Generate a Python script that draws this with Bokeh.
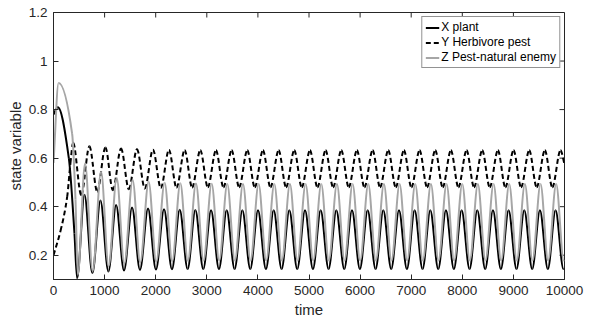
import numpy as np
from bokeh.plotting import figure
from bokeh.models import ColumnDataSource, FixedTicker, Range1d
from bokeh.embed import file_html
from bokeh.resources import INLINE

# ---------------- data (key points: start, extrema) ----------------
x_plant_t = [0, 85, 300, 410, 462, 606, 761, 919, 1074, 1225, 1380, 1537, 1692, 1850, 2005,
             2163, 2318, 2470, 2625, 2776, 2931, 3083, 3238, 3389, 3544, 3696, 3851, 4002, 4157,
             4309, 4464, 4615, 4770, 4922, 5077, 5228, 5383, 5535, 5690, 5841, 5996, 6148, 6303,
             6454, 6609, 6761, 6916, 7067, 7222, 7374, 7529, 7680, 7835, 7987, 8142, 8293, 8448,
             8600, 8755, 8906, 9061, 9213, 9368, 9519, 9674, 9825, 9980, 10000]
x_plant_v = [0.78, 0.81, 0.60, 0.29, 0.105, 0.449, 0.126, 0.425, 0.133, 0.407, 0.137, 0.397, 0.139,
             0.392, 0.141, 0.389, 0.142, 0.387, 0.143, 0.386, 0.143, 0.385, 0.143, 0.385, 0.143,
             0.385, 0.143, 0.385, 0.143, 0.385, 0.143, 0.385, 0.143, 0.385, 0.143, 0.385, 0.143,
             0.385, 0.143, 0.385, 0.143, 0.385, 0.143, 0.385, 0.143, 0.385, 0.143, 0.385, 0.143,
             0.385, 0.143, 0.385, 0.143, 0.385, 0.143, 0.385, 0.143, 0.385, 0.143, 0.385, 0.143,
             0.385, 0.143, 0.385, 0.143, 0.385, 0.143, 0.145]

y_pest_t = [0, 137, 267, 332, 384, 543, 703, 856, 1016, 1162, 1322, 1474, 1634, 1787, 1947, 2100,
            2260, 2407, 2567, 2713, 2873, 3020, 3180, 3326, 3486, 3633, 3793, 3939, 4099, 4246,
            4406, 4552, 4712, 4859, 5019, 5165, 5325, 5472, 5632, 5778, 5938, 6085, 6245, 6391,
            6551, 6698, 6858, 7004, 7164, 7311, 7471, 7617, 7777, 7924, 8084, 8230, 8390, 8537,
            8697, 8843, 9003, 9150, 9310, 9456, 9616, 9762, 9922, 10000]
y_pest_v = [0.20, 0.30, 0.44, 0.58, 0.663, 0.448, 0.649, 0.462, 0.644, 0.468, 0.640, 0.472, 0.637,
            0.475, 0.635, 0.477, 0.634, 0.478, 0.633, 0.479, 0.633, 0.48, 0.632, 0.48, 0.632, 0.48,
            0.632, 0.48, 0.632, 0.48, 0.632, 0.48, 0.632, 0.48, 0.632, 0.48, 0.632, 0.48, 0.632,
            0.48, 0.632, 0.48, 0.632, 0.48, 0.632, 0.48, 0.632, 0.48, 0.632, 0.48, 0.632, 0.48,
            0.632, 0.48, 0.632, 0.48, 0.632, 0.48, 0.632, 0.48, 0.632, 0.48, 0.632, 0.48, 0.632,
            0.48, 0.632, 0.575]

z_enemy_t = [0, 100, 365, 430, 475, 618, 766, 931, 1079, 1237, 1385, 1549, 1697, 1862, 2010, 2175,
             2323, 2482, 2630, 2788, 2936, 3095, 3243, 3401, 3549, 3708, 3856, 4014, 4162, 4321,
             4469, 4627, 4775, 4934, 5082, 5240, 5388, 5547, 5695, 5853, 6001, 6160, 6308, 6466,
             6614, 6773, 6921, 7079, 7227, 7386, 7534, 7692, 7840, 7999, 8147, 8305, 8453, 8612,
             8760, 8918, 9066, 9225, 9373, 9531, 9679, 9837, 9985, 10000]
z_enemy_v = [0.58, 0.91, 0.70, 0.43, 0.12, 0.578, 0.135, 0.544, 0.155, 0.519, 0.165, 0.510, 0.170,
             0.503, 0.173, 0.499, 0.175, 0.497, 0.177, 0.495, 0.178, 0.494, 0.178, 0.493, 0.178,
             0.493, 0.178, 0.493, 0.178, 0.493, 0.178, 0.493, 0.178, 0.493, 0.178, 0.493, 0.178,
             0.493, 0.178, 0.493, 0.178, 0.493, 0.178, 0.493, 0.178, 0.493, 0.178, 0.493, 0.178,
             0.493, 0.178, 0.493, 0.178, 0.493, 0.178, 0.493, 0.178, 0.493, 0.178, 0.493, 0.178,
             0.493, 0.178, 0.493, 0.178, 0.493, 0.178, 0.18]

x_lim = [0, 10000]
y_lim = [0.1, 1.2]
x_ticks = [0, 1000, 2000, 3000, 4000, 5000, 6000, 7000, 8000, 9000, 10000]
y_ticks = [0.2, 0.4, 0.6, 0.8, 1.0, 1.2]
y_tick_labels = ["0.2", "0.4", "0.6", "0.8", "1", "1.2"]

labels = ["X plant", "Y Herbivore pest", "Z Pest-natural enemy"]


def smooth_segments(t, v):
    """Bezier segments through the key points (monotone cubic Hermite tangents)."""
    t = np.asarray(t, float)
    v = np.asarray(v, float)
    h = np.diff(t)
    d = np.diff(v) / h
    n = len(t)
    m = np.zeros(n)
    m[0] = d[0]
    m[-1] = d[-1]
    for k in range(1, n - 1):
        if d[k - 1] * d[k] <= 0:
            m[k] = 0.0
        else:
            w1 = 2 * h[k] + h[k - 1]
            w2 = h[k] + 2 * h[k - 1]
            m[k] = (w1 + w2) / (w1 / d[k - 1] + w2 / d[k])
    return ColumnDataSource(dict(
        x0=t[:-1], y0=v[:-1], x1=t[1:], y1=v[1:],
        cx0=t[:-1] + h / 3, cy0=v[:-1] + m[:-1] * h / 3,
        cx1=t[1:] - h / 3, cy1=v[1:] - m[1:] * h / 3,
    ))


FONT = "Liberation Sans"
AX = "#262626"

p = figure(width=599, height=324, output_backend="svg", toolbar_location=None,
           x_range=Range1d(*x_lim), y_range=Range1d(*y_lim),
           min_border_left=53, min_border_right=35, min_border_top=12, min_border_bottom=45)
p.background_fill_color = "white"
p.border_fill_color = "white"
p.outline_line_color = AX
p.outline_line_width = 1
p.grid.visible = False

xa = p.xaxis[0]
xa.ticker = FixedTicker(ticks=x_ticks)
xa.axis_label = "time"
ya = p.yaxis[0]
ya.ticker = FixedTicker(ticks=y_ticks)
ya.major_label_overrides = {t: s for t, s in zip(y_ticks, y_tick_labels)}
ya.axis_label = "state variable"

for ax in (xa, ya):
    ax.major_tick_in = 5
    ax.major_tick_out = 0
    ax.minor_tick_line_color = None
    ax.axis_line_color = AX
    ax.major_tick_line_color = AX
    ax.major_label_text_font = FONT
    ax.major_label_text_font_size = "13.5px"
    ax.major_label_text_color = AX
    ax.axis_label_text_font = FONT
    ax.axis_label_text_font_size = "15px"
    ax.axis_label_text_font_style = "normal"
    ax.axis_label_text_color = AX
xa.major_label_standoff = 6
xa.axis_label_standoff = 3
ya.major_label_standoff = 6
ya.axis_label_standoff = 2

# inward ticks on the top and right edges of the box
p.ray(x=x_ticks, y=[y_lim[1]] * len(x_ticks), length=5, length_units="screen",
      angle=-np.pi / 2, line_color=AX, line_width=1)
p.ray(x=[x_lim[1]] * len(y_ticks), y=y_ticks, length=5, length_units="screen",
      angle=np.pi, line_color=AX, line_width=1)

# series
p.bezier(x0="x0", y0="y0", x1="x1", y1="y1", cx0="cx0", cy0="cy0", cx1="cx1", cy1="cy1",
         source=smooth_segments(x_plant_t, x_plant_v), line_color="black", line_width=2,
         legend_label=labels[0])
p.bezier(x0="x0", y0="y0", x1="x1", y1="y1", cx0="cx0", cy0="cy0", cx1="cx1", cy1="cy1",
         source=smooth_segments(y_pest_t, y_pest_v), line_color="black", line_width=2,
         line_dash="5 3", legend_label=labels[1])
p.bezier(x0="x0", y0="y0", x1="x1", y1="y1", cx0="cx0", cy0="cy0", cx1="cx1", cy1="cy1",
         source=smooth_segments(z_enemy_t, z_enemy_v), line_color="#a6a6a6", line_width=2,
         legend_label=labels[2])

lg = p.legend[0]
lg.location = "top_right"
lg.margin = 4
lg.padding = 3
lg.spacing = 1
lg.glyph_width = 14
lg.glyph_height = 13
lg.label_height = 13
lg.label_standoff = 2
lg.label_text_font = FONT
lg.label_text_font_size = "12px"
lg.label_text_color = "black"
lg.border_line_color = AX
lg.border_line_width = 1
lg.background_fill_color = "white"
lg.background_fill_alpha = 1.0

open("out.html", "w").write(file_html(p, INLINE))
